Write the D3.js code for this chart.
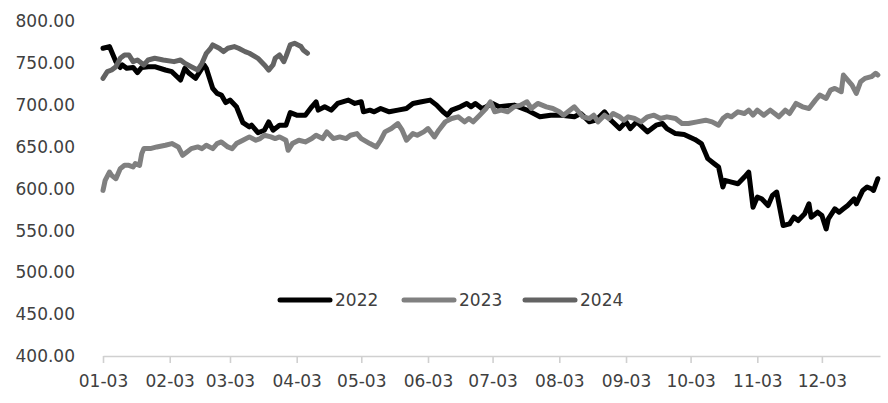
<!DOCTYPE html>
<html>
<head>
<meta charset="utf-8">
<script src="https://cdn.jsdelivr.net/npm/d3@7"></script>
<style>
  html, body { margin: 0; padding: 0; background: #fff; }
  svg { display: block; }
  text { font-family: "DejaVu Sans", sans-serif; }
</style>
</head>
<body>
<svg id="chart" width="888" height="403"></svg>
<script>
// ---- data ----
const seriesNames = ["2022", "2023", "2024"];
const tickLabels = ["01-03","02-03","03-03","04-03","05-03","06-03","07-03","08-03","09-03","10-03","11-03","12-03"];
const yTicks = [400, 450, 500, 550, 600, 650, 700, 750, 800];

const dates2022 = ["01-03","01-06","01-09","01-11","01-12","01-14","01-17","01-19","01-21","01-24","01-27","02-01","02-04","02-08","02-10","02-12","02-15","02-17","02-19","02-20","02-23","02-25","02-27","03-01","03-03","03-06","03-09","03-12","03-13","03-16","03-19","03-21","03-23","03-26","03-29","03-31","04-03","04-07","04-10","04-12","04-13","04-16","04-19","04-22","04-27","04-30","05-03","05-04","05-07","05-09","05-12","05-16","05-20","05-24","05-27","05-31","06-04","06-07","06-10","06-12","06-14","06-18","06-21","06-23","06-25","06-28","06-30","07-03","07-06","07-13","07-19","07-25","07-30","08-04","08-10","08-13","08-17","08-20","08-24","08-27","08-31","09-03","09-05","09-08","09-13","09-15","09-17","09-20","09-22","09-26","09-30","10-05","10-08","10-10","10-11","10-14","10-16","10-18","10-19","10-22","10-25","10-28","10-30","11-01","11-03","11-05","11-08","11-10","11-12","11-15","11-18","11-20","11-22","11-25","11-27","11-28","12-01","12-03","12-05","12-06","12-09","12-11","12-13","12-15","12-18","12-19","12-22","12-24","12-26","12-27","12-29"];
const values2022 = [768,770,752,745,748,744,745,739,745,746,746,742,740,730,744,738,732,740,748,744,720,714,712,703,706,698,679,674,676,667,670,680,670,676,676,691,688,688,698,704,694,698,694,702,706,702,704,692,694,692,696,692,694,696,702,704,706,700,692,688,694,698,702,698,702,696,698,702,698,700,694,686,688,688,686,690,680,682,692,682,672,680,672,680,668,672,676,678,672,666,665,659,654,642,636,630,626,602,610,608,606,614,620,578,590,588,580,592,596,556,558,566,562,570,582,566,572,568,552,564,576,572,576,580,588,582,598,602,600,598,612];

const dates2023 = ["01-03","01-04","01-06","01-07","01-09","01-11","01-13","01-15","01-17","01-18","01-20","01-21","01-22","01-25","01-28","02-01","02-04","02-07","02-09","02-11","02-13","02-16","02-18","02-20","02-23","02-25","02-27","03-02","03-04","03-06","03-09","03-12","03-15","03-17","03-19","03-22","03-24","03-26","03-29","03-30","04-01","04-04","04-07","04-10","04-12","04-15","04-17","04-20","04-23","04-26","04-28","05-01","05-03","05-07","05-10","05-12","05-14","05-17","05-20","05-22","05-24","05-27","05-29","06-01","06-03","06-06","06-08","06-11","06-14","06-17","06-20","06-22","06-24","06-27","06-30","07-02","07-04","07-07","07-10","07-13","07-16","07-19","07-21","07-24","07-28","07-31","08-03","08-05","08-07","08-10","08-12","08-14","08-17","08-19","08-21","08-24","08-26","08-28","08-31","09-02","09-04","09-07","09-10","09-13","09-16","09-19","09-22","09-26","09-29","10-02","10-06","10-10","10-13","10-16","10-18","10-20","10-22","10-25","10-28","10-30","11-01","11-03","11-06","11-09","11-13","11-16","11-18","11-21","11-24","11-27","11-30","12-02","12-05","12-07","12-09","12-12","12-13","12-15","12-17","12-19","12-21","12-23","12-26","12-28","12-29"];
const values2023 = [598,610,620,616,612,624,628,628,626,630,628,642,648,648,650,652,654,650,640,644,648,650,648,652,648,654,656,650,648,654,658,662,658,660,664,662,660,662,658,646,654,658,656,660,664,660,668,660,662,660,664,666,660,654,650,658,668,672,678,670,658,666,664,668,672,662,670,680,684,686,680,684,680,688,696,704,692,694,692,698,700,704,696,702,698,696,692,688,692,698,692,686,684,688,680,688,684,690,686,682,686,684,680,686,688,684,686,684,678,678,680,682,680,676,684,688,686,692,690,694,688,694,688,694,686,694,690,702,698,696,706,712,708,718,720,716,736,730,724,714,728,732,734,738,736];

const dates2024 = ["01-03","01-05","01-07","01-09","01-11","01-13","01-15","01-17","01-19","01-22","01-24","01-27","01-31","02-05","02-08","02-10","02-13","02-16","02-18","02-20","02-22","02-23","02-26","02-28","03-02","03-05","03-07","03-10","03-12","03-16","03-19","03-21","03-23","03-24","03-26","03-28","03-29","03-31","04-02","04-05","04-06","04-08"];
const values2024 = [732,740,742,746,756,760,760,752,754,748,754,756,754,752,754,750,746,742,750,762,768,772,768,764,768,770,768,764,762,756,748,742,748,756,760,752,758,772,774,770,766,762];

// ---- setup ----
const parse = s => d3.timeParse("%Y-%m-%d")("2022-" + s);
const svg = d3.select("#chart");
const colors = { "2022": "#000000", "2023": "#808080", "2024": "#636363" };

const x = d3.scaleTime()
  .domain([parse("01-03"), parse("12-30")])
  .range([103, 880]);
const y = d3.scaleLinear().domain([400, 800]).range([356, 21.5]);

// y axis labels
const yAxis = d3.axisLeft(y).tickValues(yTicks).tickFormat(d3.format(".2f")).tickSize(0).tickPadding(28);
const gy = svg.append("g").attr("transform", "translate(103,0)").call(yAxis);
gy.select(".domain").remove();
gy.selectAll("text").attr("font-size", 17).attr("fill", "#404040").attr("font-family", "DejaVu Sans, sans-serif");

// x axis
const xAxis = d3.axisBottom(x)
  .tickValues(tickLabels.map(parse))
  .tickFormat(d3.timeFormat("%m-%d"))
  .tickSize(7).tickSizeOuter(0).tickPadding(12);
const gx = svg.append("g").attr("transform", "translate(0,356)").call(xAxis);
gx.select(".domain").attr("stroke", "#d0d0d0").attr("stroke-width", 1.6);
gx.selectAll(".tick line").attr("stroke", "#d0d0d0").attr("stroke-width", 1.6);
gx.selectAll("text").attr("font-size", 17).attr("fill", "#404040").attr("font-family", "DejaVu Sans, sans-serif");

// lines
const line = d3.line().x(d => x(d.date)).y(d => y(d.value)).curve(d3.curveLinear);
const series = [
  { name: "2022", dates: dates2022, values: values2022 },
  { name: "2023", dates: dates2023, values: values2023 },
  { name: "2024", dates: dates2024, values: values2024 }
];
series.forEach(s => {
  const pts = s.dates.map((d, i) => ({ date: parse(d), value: s.values[i] }));
  svg.append("path")
    .datum(pts)
    .attr("d", line)
    .attr("fill", "none")
    .attr("stroke", colors[s.name])
    .attr("stroke-width", 5)
    .attr("stroke-linejoin", "round")
    .attr("stroke-linecap", "round");
});

// legend
const legendX = [278, 402, 523];
const legend = svg.append("g");
seriesNames.forEach((n, i) => {
  const g = legend.append("g").attr("transform", `translate(${legendX[i]},300)`);
  g.append("line").attr("x1", 2).attr("x2", 52).attr("y1", 0).attr("y2", 0)
    .attr("stroke", colors[n]).attr("stroke-width", 5).attr("stroke-linecap", "round");
  g.append("text").attr("x", 57).attr("y", 0).attr("dy", "0.35em")
    .attr("font-size", 17).attr("fill", "#404040").text(n);
});
</script>
</body>
</html>
